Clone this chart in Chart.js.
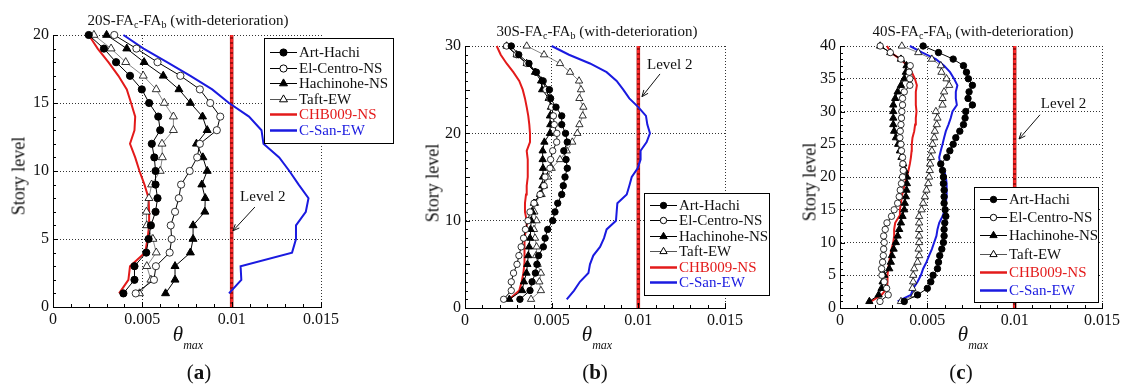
<!DOCTYPE html>
<html>
<head>
<meta charset="utf-8">
<script src="https://cdn.jsdelivr.net/npm/chart.js@4.4.1/dist/chart.umd.min.js"></script>
<style>
  body { margin: 0; background: #fff; font-family: "Liberation Serif", "Times New Roman", serif; color: #111; }
  #wrap { position: relative; width: 1128px; height: 389px; overflow: hidden; }
  canvas { position: absolute; left: 0; top: 0; }
  .lbl { position: absolute; white-space: nowrap; transform: translate(-50%, -50%); }
  .title { font-size: 15px; }
  .title sub { font-size: 10px; vertical-align: -3px; line-height: 0; }
  .ytitle { font-size: 18px; transform: translate(-50%, -50%) rotate(-90deg); }
  .xtitle { font-size: 21px; font-style: italic; }
  .xtitle sub { font-size: 12px; vertical-align: -8px; line-height: 0; }
  .panel { font-size: 21px; }
</style>
</head>
<body>
<div id="wrap">
  <canvas id="chartA" width="1128" height="389"></canvas>
  <canvas id="chartB" width="1128" height="389"></canvas>
  <canvas id="chartC" width="1128" height="389"></canvas>

  <div class="lbl title" style="left:188px;top:20px">20S-FA<sub>c</sub>-FA<sub>b</sub> (with-deterioration)</div>
  <div class="lbl title" style="left:597px;top:31px">30S-FA<sub>c</sub>-FA<sub>b</sub> (with-deterioration)</div>
  <div class="lbl title" style="left:973px;top:31px">40S-FA<sub>c</sub>-FA<sub>b</sub> (with-deterioration)</div>

  <div class="lbl ytitle" style="left:19px;top:176px">Story level</div>
  <div class="lbl ytitle" style="left:433px;top:183px">Story level</div>
  <div class="lbl ytitle" style="left:810px;top:182px">Story level</div>

  <div class="lbl xtitle" style="left:188px;top:334px">θ<sub>max</sub></div>
  <div class="lbl xtitle" style="left:597px;top:334px">θ<sub>max</sub></div>
  <div class="lbl xtitle" style="left:973px;top:334px">θ<sub>max</sub></div>

  <div class="lbl panel" style="left:199px;top:372px">(<b>a</b>)</div>
  <div class="lbl panel" style="left:595px;top:372px">(<b>b</b>)</div>
  <div class="lbl panel" style="left:961px;top:372px">(<b>c</b>)</div>
</div>

<script>
// ---- data (story 1 at the bottom -> top story) ----
const storiesA = [1, 2, 3, 4, 5, 6, 7, 8, 9, 10, 11, 12, 13, 14, 15, 16, 17, 18, 19, 20];
const storiesB = [1, 2, 3, 4, 5, 6, 7, 8, 9, 10, 11, 12, 13, 14, 15, 16, 17, 18, 19, 20,
                  21, 22, 23, 24, 25, 26, 27, 28, 29, 30];
const storiesC = [1, 2, 3, 4, 5, 6, 7, 8, 9, 10, 11, 12, 13, 14, 15, 16, 17, 18, 19, 20,
                  21, 22, 23, 24, 25, 26, 27, 28, 29, 30, 31, 32, 33, 34, 35, 36, 37, 38, 39, 40];

const seriesNames = ['Art-Hachi', 'El-Centro-NS', 'Hachinohe-NS', 'Taft-EW', 'CHB009-NS', 'C-San-EW'];
const level2 = 0.01;
const xTicks = [0, 0.005, 0.01, 0.015];

// 20-story
const artA = [0.00394, 0.00456, 0.00456, 0.00522, 0.00535, 0.00548, 0.00574, 0.00585, 0.00574, 0.00574,
              0.00567, 0.00553, 0.0060, 0.00589, 0.00538, 0.00497, 0.00431, 0.00353, 0.00285, 0.0020];
const elA = [0.00463, 0.00565, 0.00576, 0.00653, 0.00664, 0.00659, 0.00683, 0.00704, 0.00717, 0.00765,
             0.00807, 0.00822, 0.00917, 0.00936, 0.0088, 0.00822, 0.00713, 0.00585, 0.00467, 0.00343];
const hachA = [0.0063, 0.00683, 0.00683, 0.00769, 0.00784, 0.00784, 0.0085, 0.00852, 0.00833, 0.00863,
               0.00839, 0.00803, 0.00863, 0.00837, 0.00769, 0.00705, 0.00617, 0.0051, 0.00413, 0.0030];
const taftA = [0.00484, 0.00548, 0.00525, 0.00578, 0.00559, 0.00525, 0.00523, 0.00537, 0.00552, 0.0060,
               0.00612, 0.0061, 0.00674, 0.00674, 0.00623, 0.00578, 0.00505, 0.00407, 0.00325, 0.00229];
const chbA = [0.0037, 0.00422, 0.00431, 0.00516, 0.00529, 0.00538, 0.00538, 0.00535, 0.00512, 0.00484,
              0.0046, 0.00431, 0.00456, 0.0046, 0.00437, 0.00413, 0.00366, 0.0031, 0.0025, 0.0020];
const csanA = [0.00985, 0.01054, 0.0105, 0.01338, 0.0136, 0.0136, 0.01415, 0.0143, 0.01375, 0.01323,
               0.01266, 0.01178, 0.01167, 0.01097, 0.00985, 0.00891, 0.00769, 0.00638, 0.00507, 0.00394];

// 30-story
const artB = [0.00317, 0.00375, 0.00387, 0.00406, 0.00415, 0.00425, 0.00452, 0.00462, 0.00477, 0.00506,
              0.00519, 0.00535, 0.00558, 0.00567, 0.00577, 0.0059, 0.00583, 0.0057, 0.0059, 0.0058,
              0.00558, 0.00558, 0.00525, 0.00494, 0.00487, 0.00448, 0.0041, 0.00369, 0.0031, 0.00267];
const elB = [0.00223, 0.00267, 0.00267, 0.0028, 0.0030, 0.00311, 0.00324, 0.00338, 0.00349, 0.00363,
             0.00375, 0.00398, 0.00433, 0.00456, 0.00462, 0.0049, 0.00494, 0.00506, 0.00529, 0.0053,
             0.00515, 0.0051, 0.0050, 0.00487, 0.00467, 0.00452, 0.00413, 0.00356, 0.00298, 0.0024];
const hachB = [0.00256, 0.0033, 0.0034, 0.00355, 0.0036, 0.00365, 0.0037, 0.00375, 0.00378, 0.00382,
               0.00388, 0.00398, 0.00433, 0.00446, 0.0045, 0.0045, 0.00448, 0.00448, 0.00458, 0.0049,
               0.00492, 0.0049, 0.00496, 0.00483, 0.00445, 0.00439, 0.00404, 0.00356, 0.00298, 0.0024];
const taftB = [0.00381, 0.00438, 0.00429, 0.00438, 0.00419, 0.0041, 0.00413, 0.00404, 0.00398, 0.00413,
               0.0040, 0.00404, 0.00442, 0.00456, 0.00477, 0.0050, 0.00548, 0.00587, 0.00619, 0.00648,
               0.0066, 0.00679, 0.00683, 0.0066, 0.00669, 0.00658, 0.00606, 0.00548, 0.00456, 0.00356];
const chbB = [0.00256, 0.00313, 0.00327, 0.00337, 0.00342, 0.00342, 0.00342, 0.00346, 0.00352, 0.00356,
              0.00346, 0.00346, 0.00352, 0.00356, 0.00362, 0.00362, 0.00362, 0.00356, 0.00375, 0.00375,
              0.00371, 0.00365, 0.00356, 0.00346, 0.00333, 0.00313, 0.00279, 0.0024, 0.00206, 0.00183];
const csanB = [0.00587, 0.00629, 0.00663, 0.00712, 0.00721, 0.0074, 0.00779, 0.00802, 0.00817, 0.00871,
               0.00875, 0.00879, 0.00933, 0.00948, 0.00962, 0.00996, 0.01013, 0.01013, 0.01048, 0.01067,
               0.01052, 0.01044, 0.0100, 0.00948, 0.00913, 0.00875, 0.00817, 0.00721, 0.0060, 0.0050];

// 40-story
const artC = [0.00368, 0.00444, 0.0050, 0.0052, 0.00533, 0.00558, 0.00564, 0.00571, 0.00583, 0.00592,
              0.00596, 0.00596, 0.0060, 0.00606, 0.00602, 0.00596, 0.00596, 0.00596, 0.00592, 0.00592,
              0.00587, 0.00577, 0.00611, 0.00629, 0.00648, 0.00663, 0.00686, 0.00707, 0.00716, 0.0072,
              0.00758, 0.00733, 0.00739, 0.00758, 0.00735, 0.00724, 0.00707, 0.00648, 0.00564, 0.00476];
const elC = [0.00229, 0.00276, 0.00267, 0.00253, 0.0024, 0.00238, 0.00244, 0.00248, 0.0025, 0.00253,
             0.0025, 0.00259, 0.00269, 0.00295, 0.0031, 0.0033, 0.00339, 0.00345, 0.00352, 0.00358,
             0.00362, 0.0036, 0.00358, 0.00352, 0.00349, 0.00343, 0.00345, 0.00349, 0.00352, 0.00354,
             0.00358, 0.00358, 0.00368, 0.0040, 0.0040, 0.00396, 0.00402, 0.00349, 0.00288, 0.0023];
const hachC = [0.00168, 0.00221, 0.00238, 0.00244, 0.00253, 0.00282, 0.00291, 0.00297, 0.00307, 0.0032,
               0.0033, 0.00339, 0.00349, 0.00358, 0.00368, 0.00371, 0.00377, 0.00381, 0.00383, 0.00383,
               0.00371, 0.00362, 0.00352, 0.00343, 0.00333, 0.0032, 0.0031, 0.00305, 0.00305, 0.00305,
               0.00305, 0.00316, 0.0033, 0.00349, 0.00368, 0.00377, 0.00381, 0.00349, 0.00288, 0.0023];
const taftC = [0.00349, 0.00425, 0.00415, 0.00419, 0.00419, 0.00425, 0.00444, 0.00453, 0.0045, 0.00453,
               0.00453, 0.00453, 0.00453, 0.00453, 0.00467, 0.00476, 0.00486, 0.00495, 0.00505, 0.0051,
               0.00514, 0.00516, 0.0052, 0.00526, 0.0053, 0.00539, 0.00543, 0.00554, 0.00558, 0.00549,
               0.00587, 0.00587, 0.00596, 0.00625, 0.0061, 0.00581, 0.00577, 0.00526, 0.00448, 0.00354];
const chbC = [0.00177, 0.00238, 0.00269, 0.00272, 0.00272, 0.00276, 0.00282, 0.00288, 0.00295, 0.00305,
              0.0031, 0.0031, 0.00316, 0.00339, 0.00343, 0.00349, 0.00354, 0.00362, 0.00371, 0.00383,
              0.00392, 0.0040, 0.00406, 0.0041, 0.00411, 0.00415, 0.00425, 0.0043, 0.00434, 0.00438,
              0.00434, 0.00434, 0.00434, 0.0044, 0.00429, 0.00411, 0.00387, 0.00345, 0.00291, 0.00269];
const csanC = [0.0033, 0.00406, 0.00419, 0.00444, 0.00463, 0.00476, 0.00495, 0.0051, 0.00526, 0.00539,
               0.00552, 0.00558, 0.00568, 0.00587, 0.0060, 0.00606, 0.0061, 0.00611, 0.0061, 0.00606,
               0.00596, 0.00573, 0.00568, 0.00577, 0.00587, 0.00596, 0.00606, 0.00621, 0.00634, 0.00644,
               0.00669, 0.00663, 0.00663, 0.00672, 0.00653, 0.0063, 0.00596, 0.00549, 0.00472, 0.0040];

const FONT = '"Liberation Serif", "Times New Roman", serif';
const RED = '#e31a1a';
const BLUE = '#1a1ae0';

function toPoints(values, stories) {
    return values.map((v, i) => ({ x: v, y: stories[i] }));
}

// small inward ticks along the left and bottom axes
const innerTicks = {
    id: 'innerTicks',
    afterDraw(chart) {
        const { ctx, chartArea: a, scales: { x, y } } = chart;
        ctx.save();
        ctx.strokeStyle = '#000';
        ctx.lineWidth = 1;
        ctx.beginPath();
        for (let i = 0; i <= 15; i++) {
            const px = Math.round(x.getPixelForValue(i / 1000)) + 0.5;
            const len = i % 5 === 0 ? 5 : 3;
            ctx.moveTo(px, a.bottom);
            ctx.lineTo(px, a.bottom - len);
        }
        for (let s = 0; s <= y.max; s++) {
            const py = Math.round(y.getPixelForValue(s)) + 0.5;
            const len = s % 5 === 0 ? 5 : 3;
            ctx.moveTo(a.left, py);
            ctx.lineTo(a.left + len, py);
        }
        ctx.stroke();
        ctx.restore();
    }
};

// boxed legend placed by pixel position
const legendBox = {
    id: 'legendBox',
    afterDraw(chart, args, o) {
        const ctx = chart.ctx;
        ctx.save();
        ctx.fillStyle = '#fff';
        ctx.fillRect(o.x, o.y, o.w, o.h);
        ctx.strokeStyle = '#000';
        ctx.lineWidth = 1;
        ctx.strokeRect(o.x + 0.5, o.y + 0.5, o.w, o.h);
        ctx.font = '15px ' + FONT;
        ctx.textBaseline = 'middle';
        chart.data.datasets.filter(d => d.inLegend).forEach((d, i) => {
            const cy = Math.round(o.y + o.first + i * o.step) + 0.5;
            ctx.strokeStyle = d.borderColor;
            ctx.lineWidth = d.legendWidth;
            ctx.beginPath();
            ctx.moveTo(o.x + 6, cy);
            ctx.lineTo(o.x + 33, cy);
            ctx.stroke();
            if (d.pointRadius > 0) {
                const mx = o.x + 19.5;
                ctx.fillStyle = d.pointBackgroundColor;
                ctx.strokeStyle = '#000';
                ctx.lineWidth = 1;
                ctx.beginPath();
                if (d.pointStyle === 'triangle') {
                    const r = d.pointRadius;
                    ctx.moveTo(mx, cy - r);
                    ctx.lineTo(mx + r * 0.866, cy + r * 0.5);
                    ctx.lineTo(mx - r * 0.866, cy + r * 0.5);
                    ctx.closePath();
                } else {
                    ctx.arc(mx, cy, d.pointRadius, 0, Math.PI * 2);
                }
                ctx.fill();
                ctx.stroke();
            }
            ctx.fillStyle = d.labelColor;
            ctx.fillText(d.label, o.x + 35, cy + 1);
        });
        ctx.restore();
    }
};

// "Level 2" note with an arrow, given in data coordinates
const levelNote = {
    id: 'levelNote',
    afterDraw(chart, args, o) {
        const { ctx, scales: { x, y } } = chart;
        const px = v => x.getPixelForValue(v), py = v => y.getPixelForValue(v);
        ctx.save();
        ctx.font = '15px ' + FONT;
        ctx.fillStyle = '#111';
        ctx.textBaseline = 'middle';
        ctx.fillText('Level 2', px(o.tx), py(o.ty));
        const x0 = px(o.ax0), y0 = py(o.ay0), x1 = px(o.ax1), y1 = py(o.ay1);
        const ang = Math.atan2(y1 - y0, x1 - x0);
        ctx.strokeStyle = '#111';
        ctx.lineWidth = 1;
        ctx.beginPath();
        ctx.moveTo(x0, y0);
        ctx.lineTo(x1, y1);
        ctx.moveTo(x1 - 7 * Math.cos(ang - 0.4), y1 - 7 * Math.sin(ang - 0.4));
        ctx.lineTo(x1, y1);
        ctx.lineTo(x1 - 7 * Math.cos(ang + 0.4), y1 - 7 * Math.sin(ang + 0.4));
        ctx.stroke();
        ctx.restore();
    }
};

function buildPanel(canvasId, stories, series, p) {
    const top = stories[stories.length - 1];
    const mk = (i, style) => Object.assign({
        label: seriesNames[i],
        data: toPoints(series[i], stories),
        showLine: true,
        tension: 0,
        clip: false,
        inLegend: true,
        labelColor: '#111'
    }, style);

    const datasets = [
        mk(0, { borderColor: '#000', borderWidth: 1, legendWidth: 1, pointStyle: 'circle', pointRadius: p.r,
                pointBackgroundColor: '#000', pointBorderColor: '#000', pointBorderWidth: 1, order: 1 }),
        mk(1, { borderColor: '#000', borderWidth: 1, legendWidth: 1, pointStyle: 'circle', pointRadius: p.r,
                pointBackgroundColor: '#fff', pointBorderColor: '#000', pointBorderWidth: 0.8, order: 2 }),
        mk(2, { borderColor: '#000', borderWidth: 1, legendWidth: 1, pointStyle: 'triangle', pointRadius: p.r + 1,
                pointBackgroundColor: '#000', pointBorderColor: '#000', pointBorderWidth: 1, order: 3 }),
        mk(3, { borderColor: '#555', borderWidth: 0.7, legendWidth: 1, pointStyle: 'triangle', pointRadius: p.r + 1,
                pointBackgroundColor: '#fff', pointBorderColor: '#000', pointBorderWidth: 0.8, order: 4 }),
        mk(4, { borderColor: RED, borderWidth: 2, legendWidth: 2.5, pointRadius: 0, labelColor: RED, order: 5 }),
        mk(5, { borderColor: BLUE, borderWidth: 2, legendWidth: 2.5, pointRadius: 0, labelColor: BLUE, order: 6 }),
        {
            label: 'Level 2', inLegend: false, showLine: true, clip: false, pointRadius: 0, order: 8,
            data: [{ x: level2, y: 0 }, { x: level2, y: top }],
            borderColor: '#a01010', borderWidth: 3.5
        },
        {
            label: 'Level 2 dash', inLegend: false, showLine: true, clip: false, pointRadius: 0, order: 7,
            data: [{ x: level2, y: 0 }, { x: level2, y: top }],
            borderColor: '#ff2a2a', borderWidth: 2.5, borderDash: [3, 2]
        }
    ];

    const tickFont = { family: FONT, size: 16 };
    return new Chart(document.getElementById(canvasId), {
        type: 'scatter',
        data: { datasets },
        options: {
            responsive: false,
            animation: false,
            events: [],
            layout: {
                autoPadding: false,
                padding: { left: p.left - 34, top: p.top, right: 1128 - p.right, bottom: 389 - p.bottom - 24 }
            },
            plugins: {
                legend: { display: false },
                tooltip: { enabled: false },
                legendBox: p.legend,
                levelNote: p.note
            },
            scales: {
                x: {
                    type: 'linear', min: 0, max: 0.015,
                    afterFit: s => { s.height = 24; },
                    afterBuildTicks: s => { s.ticks = xTicks.map(v => ({ value: v })); },
                    ticks: {
                        padding: 3, color: '#111', font: tickFont, maxRotation: 0,
                        callback: v => v === 0 ? '0' : String(+v.toFixed(3))
                    },
                    grid: { color: '#333', lineWidth: 1, drawTicks: false },
                    border: { display: true, color: '#000', width: 1, dash: [1, 2] }
                },
                y: {
                    type: 'linear', min: 0, max: top,
                    afterFit: s => { s.width = 34; },
                    ticks: { stepSize: p.yStep, padding: 4, color: '#111', font: tickFont },
                    grid: { color: '#333', lineWidth: 1, drawTicks: false },
                    border: { display: true, color: '#000', width: 1, dash: [1, 2] }
                }
            }
        },
        plugins: [innerTicks, legendBox, levelNote]
    });
}

buildPanel('chartA', storiesA, [artA, elA, hachA, taftA, chbA, csanA], {
    left: 53, right: 321, top: 35, bottom: 307, yStep: 5, r: 3.6,
    legend: { x: 264, y: 38, w: 129, h: 105, first: 14, step: 15.5 },
    note: { tx: 0.01047, ty: 8.1, ax0: 0.0113, ay0: 7.35, ax1: 0.01007, ay1: 5.6 }
});
buildPanel('chartB', storiesB, [artB, elB, hachB, taftB, chbB, csanB], {
    left: 465, right: 725, top: 46, bottom: 308, yStep: 10, r: 3.2,
    legend: { x: 644, y: 193, w: 125, h: 102, first: 12, step: 15.4 },
    note: { tx: 0.0105, ty: 27.8, ax0: 0.01125, ay0: 26.8, ax1: 0.01021, ay1: 24.2 }
});
buildPanel('chartC', storiesC, [artC, elC, hachC, taftC, chbC, csanC], {
    left: 840, right: 1102, top: 46, bottom: 308, yStep: 5, r: 3.2,
    legend: { x: 974, y: 187, w: 124, h: 115, first: 12, step: 18.2 },
    note: { tx: 0.0115, ty: 31.1, ax0: 0.01145, ay0: 29.5, ax1: 0.01025, ay1: 25.8 }
});
</script>
</body>
</html>
